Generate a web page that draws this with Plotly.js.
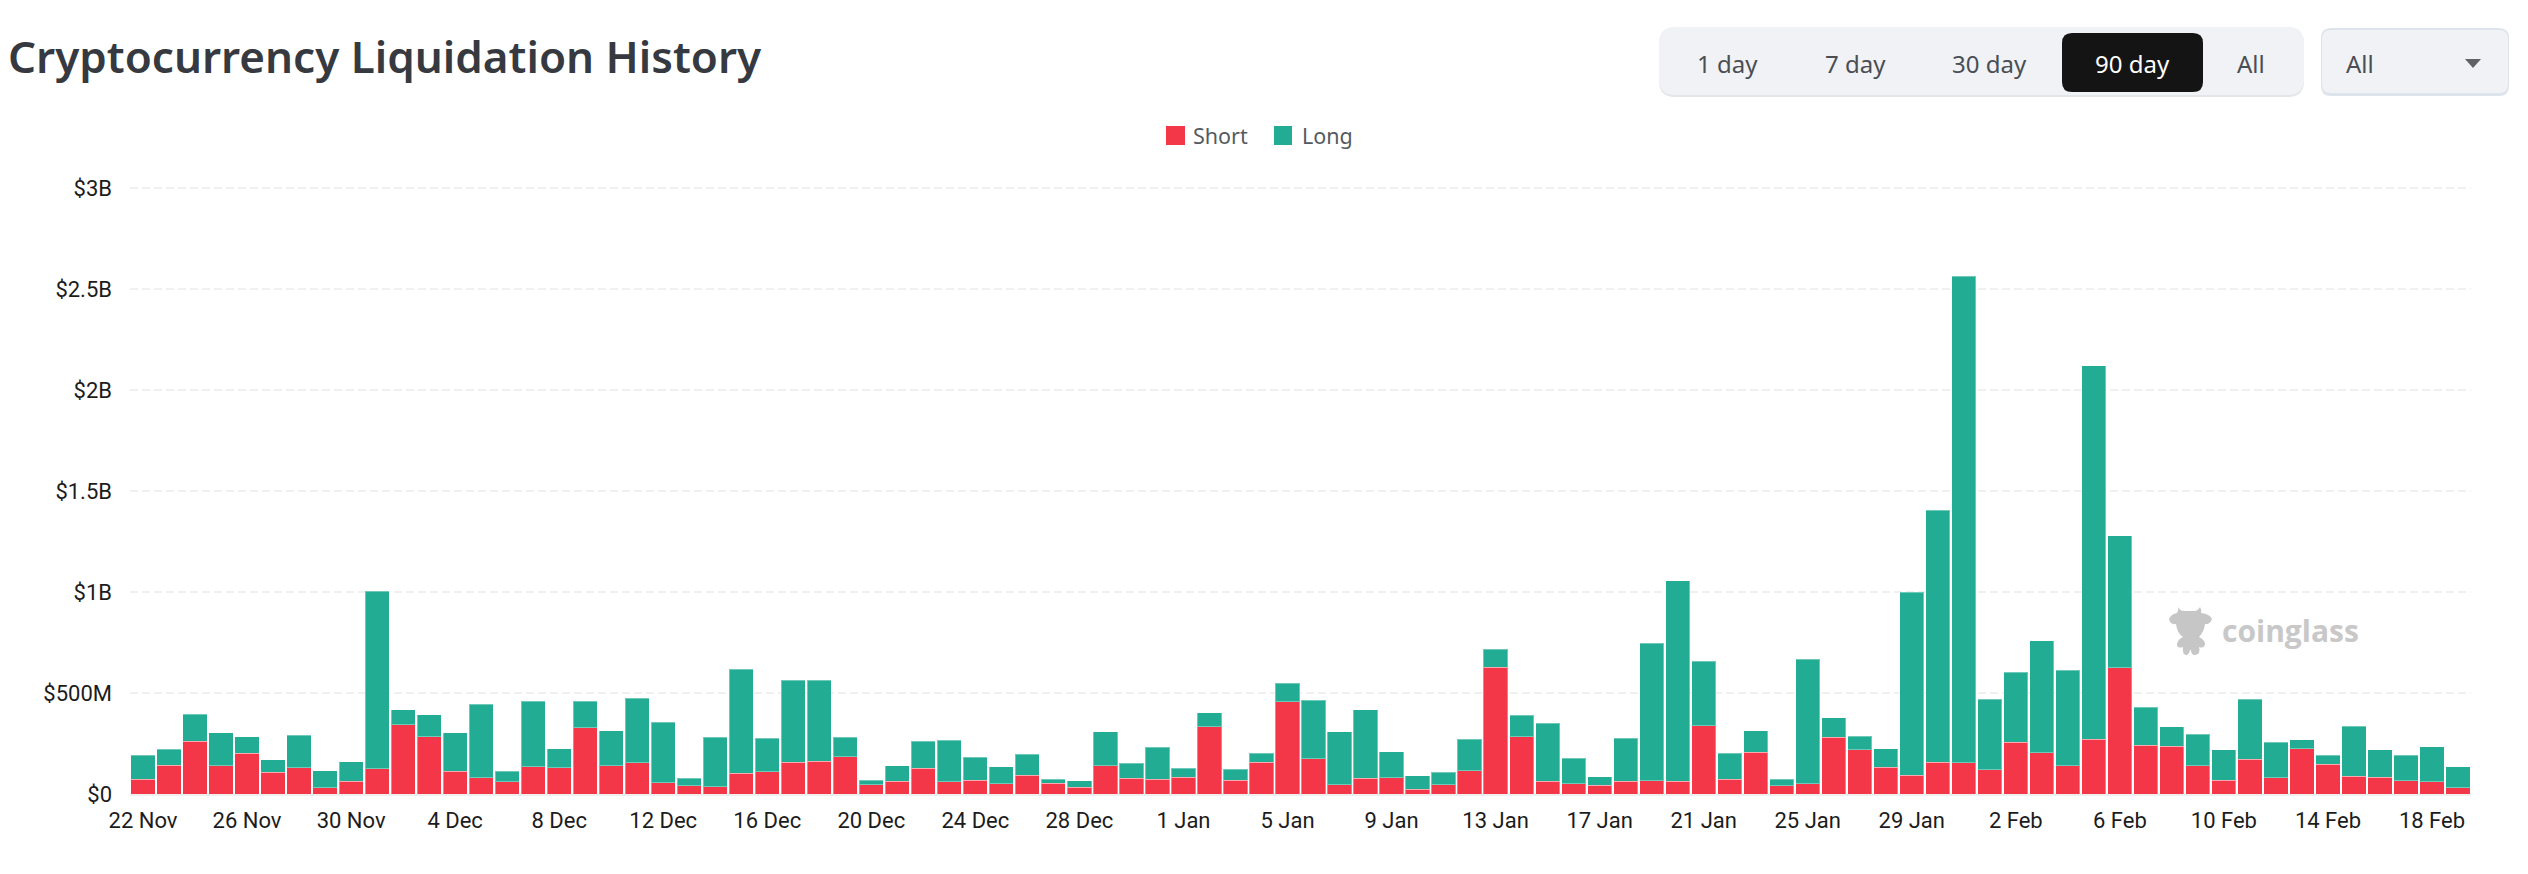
<!DOCTYPE html>
<html><head><meta charset="utf-8">
<script src="https://cdn.plot.ly/plotly-3.0.1.min.js"></script>
<style>html,body{margin:0;padding:0;background:#fff}#c{width:2528px;height:874px}</style>
</head><body><div id="c"></div>
<script>
const dates = ["22 Nov","23 Nov","24 Nov","25 Nov","26 Nov","27 Nov","28 Nov","29 Nov","30 Nov","1 Dec",
"2 Dec","3 Dec","4 Dec","5 Dec","6 Dec","7 Dec","8 Dec","9 Dec","10 Dec","11 Dec",
"12 Dec","13 Dec","14 Dec","15 Dec","16 Dec","17 Dec","18 Dec","19 Dec","20 Dec","21 Dec",
"22 Dec","23 Dec","24 Dec","25 Dec","26 Dec","27 Dec","28 Dec","29 Dec","30 Dec","31 Dec",
"1 Jan","2 Jan","3 Jan","4 Jan","5 Jan","6 Jan","7 Jan","8 Jan","9 Jan","10 Jan",
"11 Jan","12 Jan","13 Jan","14 Jan","15 Jan","16 Jan","17 Jan","18 Jan","19 Jan","20 Jan",
"21 Jan","22 Jan","23 Jan","24 Jan","25 Jan","26 Jan","27 Jan","28 Jan","29 Jan","30 Jan",
"31 Jan","1 Feb","2 Feb","3 Feb","4 Feb","5 Feb","6 Feb","7 Feb","8 Feb","9 Feb",
"10 Feb","11 Feb","12 Feb","13 Feb","14 Feb","15 Feb","16 Feb","17 Feb","18 Feb","19 Feb"];
// liquidations in $M
const shortValues = [73,142,262,140,201,107,130,30,63,125,342,284,112,81,61,134,130,328,140,155,
56,40,36,102,110,158,163,185,45,64,127,61,68,50,92,53,33,140,78,74,
82,333,69,157,457,175,45,78,81,23,45,114,627,284,63,50,43,63,66,64,
338,73,206,41,50,280,218,132,94,157,155,119,256,205,140,272,625,241,236,139,
68,172,81,224,147,87,82,66,61,31];
const longValues = [120,79,132,164,83,63,162,85,97,880,75,109,192,363,51,326,94,131,173,320,
299,38,246,515,166,406,400,95,23,76,135,206,113,84,106,21,33,168,74,157,
45,70,53,46,91,290,262,339,127,68,62,157,89,105,287,127,43,213,681,992,
319,130,106,33,617,98,69,92,904,1249,2409,350,346,554,472,1847,654,188,97,156,
150,297,176,45,46,248,137,127,173,103];
const yTickValues = [0,500,1000,1500,2000,2500,3000];
const yTickLabels = ["$0","$500M","$1B","$1.5B","$2B","$2.5B","$3B"];
const xTickLabels = ["22 Nov","26 Nov","30 Nov","4 Dec","8 Dec","12 Dec","16 Dec","20 Dec","24 Dec","28 Dec","1 Jan","5 Jan","9 Jan","13 Jan","17 Jan","21 Jan","25 Jan","29 Jan","2 Feb","6 Feb","10 Feb","14 Feb","18 Feb"];
const rangeButtons = ["1 day","7 day","30 day","90 day","All"];
const seriesNames = ["Short","Long"];
const seriesColors = ["#F43748","#22AC93"];

// page-pixel helpers
const L=130,R=2471,T=186,B=794;
const px=x=>(x-L)/(R-L), py=y=>(B-y)/(B-T);
const P=(x,y)=>px(x)+','+py(y);
function rr(x0,y0,x1,y1,r){
  return 'M'+P(x0+r,y0)+' L'+P(x1-r,y0)+' Q'+P(x1,y0)+' '+P(x1,y0+r)+' L'+P(x1,y1-r)+' Q'+P(x1,y1)+' '+P(x1-r,y1)+
         ' L'+P(x0+r,y1)+' Q'+P(x0,y1)+' '+P(x0,y1-r)+' L'+P(x0,y0+r)+' Q'+P(x0,y0)+' '+P(x0+r,y0)+' Z';
}
const pshape=(path,fill)=>({type:'path',xref:'paper',yref:'paper',path:path,fillcolor:fill,line:{width:0},layer:'above'});
const box=(x0,y0,x1,y1,fill)=>({type:'rect',xref:'paper',yref:'paper',x0:px(x0),x1:px(x1),y0:py(y0),y1:py(y1),fillcolor:fill,line:{width:0}});
const label=(text,x,y,size,color,anchor,family,weight)=>({text:text,xref:'paper',yref:'paper',x:px(x),y:py(y),showarrow:false,
  xanchor:anchor||'center',yanchor:'middle',font:{size:size,color:color,family:family||'Noto Sans',weight:weight||400},borderpad:0,borderwidth:0});

const mascot='M'+P(2178,607)+' Q'+P(2180,611)+' '+P(2184,611)+' L'+P(2194,611)+' Q'+P(2198,611)+' '+P(2200,607)+
 ' Q'+P(2202,610)+' '+P(2201,613)+' Q'+P(2210,614)+' '+P(2212,619)+' Q'+P(2210,625)+' '+P(2205,624)+
 ' Q'+P(2204,632)+' '+P(2199,637)+' Q'+P(2205,640)+' '+P(2205,644)+' Q'+P(2204,649)+' '+P(2199,647)+
 ' Q'+P(2201,654)+' '+P(2195,655)+' Q'+P(2191,655)+' '+P(2191,650)+' L'+P(2190,650)+' Q'+P(2189,655)+' '+P(2186,655)+
 ' Q'+P(2182,654)+' '+P(2183,647)+' Q'+P(2177,649)+' '+P(2177,644)+' Q'+P(2178,639)+' '+P(2183,637)+
 ' Q'+P(2177,633)+' '+P(2176,624)+' Q'+P(2170,625)+' '+P(2169,619)+' Q'+P(2171,614)+' '+P(2177,613)+' Q'+P(2179,610)+' '+P(2178,607)+' Z';

const traces=[
 {type:'bar',name:seriesNames[0],x:dates,y:shortValues,marker:{color:seriesColors[0],line:{color:'rgba(255,255,255,0.35)',width:1}}},
 {type:'bar',name:seriesNames[1],x:dates,y:longValues,marker:{color:seriesColors[1],line:{color:'rgba(255,255,255,0.35)',width:1}}}
];
const btnX=[1727,1855,1989,2132,2251];
const layout={
 width:2528,height:874,paper_bgcolor:'#fff',plot_bgcolor:'#fff',showlegend:false,barmode:'stack',bargap:0.07,
 margin:{l:L,r:2528-R,t:T,b:874-B,pad:0},
 xaxis:{type:'category',categoryorder:'array',categoryarray:dates,range:[-0.5,89.5],tickmode:'array',tickvals:xTickLabels,ticktext:xTickLabels,
   showgrid:false,zeroline:false,showline:true,linecolor:'#efefef',linewidth:2,ticks:'',ticklabelstandoff:6,tickangle:0,
   tickfont:{family:'Roboto',size:22,color:'#1c1c1c'}},
 yaxis:{range:[0,3010],tickmode:'array',tickvals:yTickValues,ticktext:yTickLabels,showgrid:true,gridcolor:'#f0f0f0',gridwidth:2,griddash:'8px,4px',
   zeroline:false,showline:false,ticks:'',ticklabelstandoff:17,tickfont:{family:'Roboto',size:22,color:'#1c1c1c'}},
 shapes:[
   pshape(rr(1659,28,2304,97,16),'#e3e5e9'),
   pshape(rr(1659,27,2304,95,16),'#f0f2f5'),
   pshape(rr(2062,33,2203,92,10),'#141414'),
   pshape(rr(2321,28,2509,96,10),'#dde4ec'),
   pshape(rr(2322,30,2508,93,9),'#f0f2f5'),
   pshape('M'+P(2465,59)+' L'+P(2481,59)+' L'+P(2473,68)+' Z','#5f6368'),
   box(1166,126,1185,145,seriesColors[0]),
   box(1274,126,1292,145,seriesColors[1]),
   pshape(mascot,'#c6c6c6')
 ],
 annotations:[
   label('Cryptocurrency Liquidation History',8,56,44,'#363a40','left','Noto Sans',600),
   ...rangeButtons.map((t,i)=>label(t,btnX[i],63,24,i===3?'#ffffff':'#4a4e54')),
   label('All',2346,63,24,'#4a4e54','left'),
   label(seriesNames[0],1193,135,21.5,'#555a60','left'),
   label(seriesNames[1],1302,135,21.5,'#555a60','left'),
   label('coinglass',2222,630,30,'#c8c8c8','left','Open Sans',700)
 ]
};
Plotly.newPlot('c',traces,layout,{displayModeBar:false,staticPlot:true});
</script></body></html>
